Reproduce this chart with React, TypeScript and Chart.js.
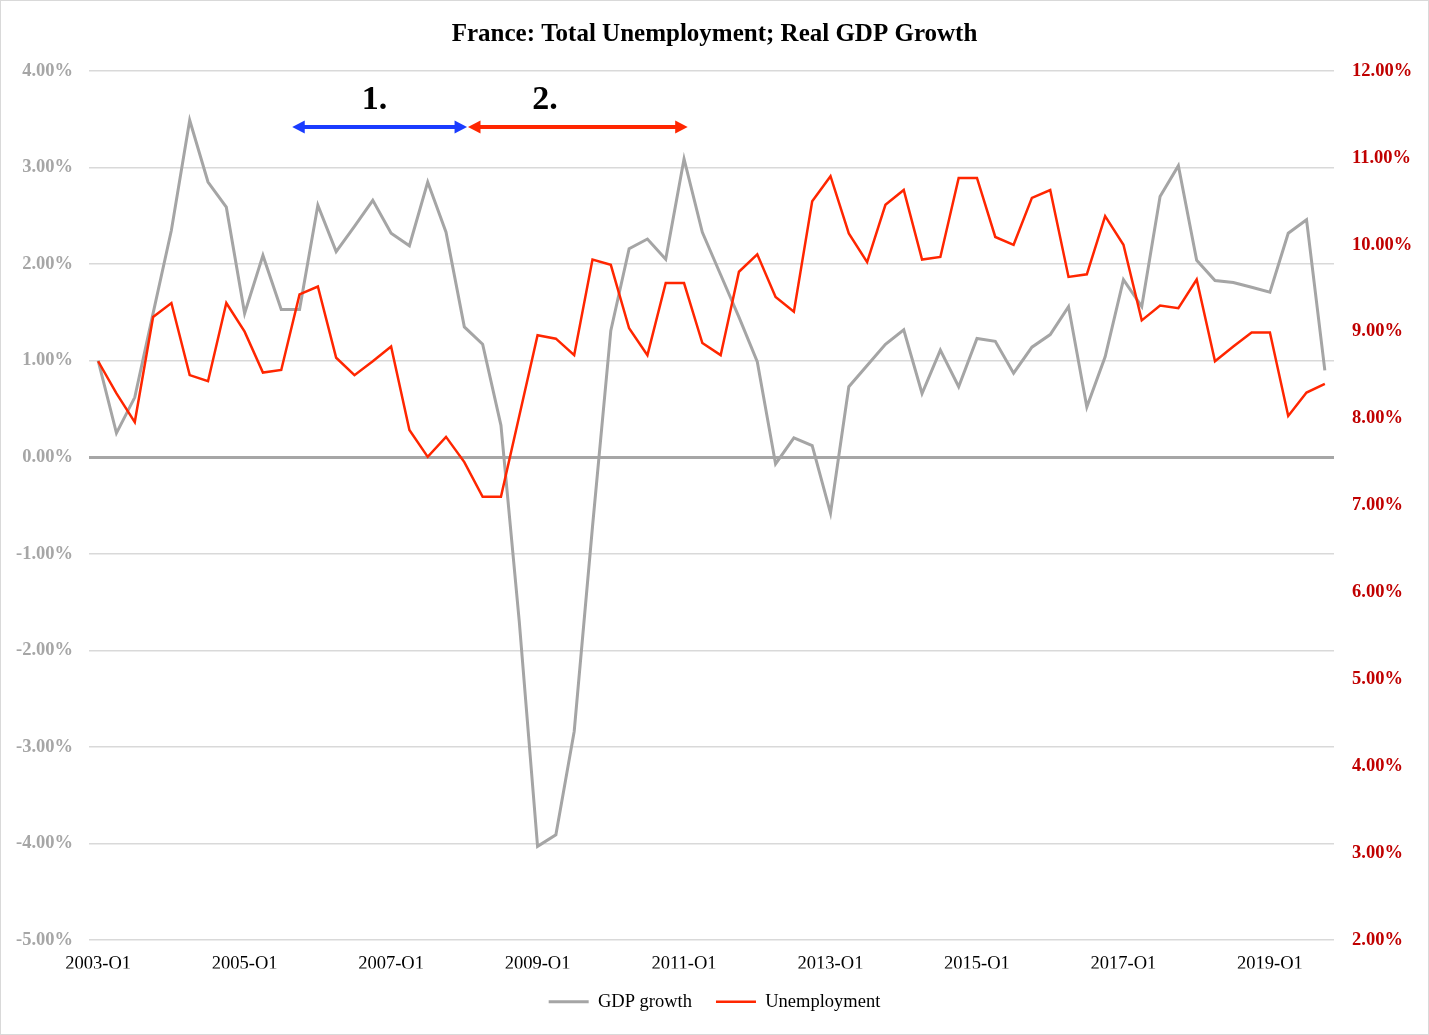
import React, { useEffect, useRef } from "react";
import { Chart, registerables } from "chart.js";

Chart.register(...registerables);

const FONT = "'Liberation Serif', 'Times New Roman', serif";

const years = [2003, 2004, 2005, 2006, 2007, 2008, 2009, 2010, 2011, 2012, 2013, 2014, 2015, 2016, 2017, 2018, 2019];
const quarters = ["Q1", "Q2", "Q3", "Q4"];
const categories = years.flatMap((y) => quarters.map((q) => `${y}-${q}`));

const gdpGrowth = [
  1.0, 0.25, 0.62, 1.49, 2.35, 3.49, 2.85, 2.59,
  1.49, 2.09, 1.53, 1.53, 2.61, 2.13, 2.39, 2.66,
  2.32, 2.19, 2.85, 2.33, 1.35, 1.17, 0.33, -1.7,
  -4.03, -3.91, -2.84, -0.72, 1.31, 2.16, 2.26, 2.05,
  3.09, 2.33, 1.89, 1.45, 0.99, -0.07, 0.2, 0.12,
  -0.58, 0.73, 0.95, 1.17, 1.32, 0.66, 1.11, 0.73,
  1.23, 1.2, 0.87, 1.14, 1.27, 1.56, 0.52, 1.04,
  1.84, 1.56, 2.7, 3.02, 2.04, 1.83, 1.81, 1.76,
  1.71, 2.32, 2.46, 0.9,
];

const unemployment = [
  8.66, 8.29, 7.96, 9.17, 9.33, 8.5, 8.43, 9.33,
  9.0, 8.53, 8.56, 9.43, 9.52, 8.7, 8.5, 8.66,
  8.83, 7.87, 7.56, 7.79, 7.5, 7.1, 7.1, 8.03,
  8.96, 8.92, 8.73, 9.83, 9.77, 9.04, 8.73, 9.56,
  9.56, 8.87, 8.73, 9.69, 9.89, 9.4, 9.23, 10.5,
  10.79, 10.13, 9.8, 10.46, 10.63, 9.83, 9.86, 10.77,
  10.77, 10.09, 10.0, 10.54, 10.63, 9.63, 9.66, 10.33,
  10.0, 9.13, 9.3, 9.27, 9.6, 8.66, 8.83, 8.99,
  8.99, 8.03, 8.3, 8.4,
];

const gdpAxisRange = [-5, 4];
const unemploymentAxisRange = [2, 12];
const xLabelEvery = 8;

// Period annotations (category index units, GDP-axis values)
const annotationLabels = ["1.", "2."];
const annotationLabelAt = [15.1, 24.4];
const arrowFrom = [10.6, 20.2];
const arrowTo = [20.15, 32.2];
const arrowColors = ["#1a3cff", "#ff2600"];
const arrowLevel = 3.42;
const labelLevel = 3.61;

const annotationPlugin = {
  id: "periodArrows",
  afterDatasetsDraw(chart: any) {
    const { ctx } = chart;
    const xs = chart.scales.x;
    const ys = chart.scales.y;
    const ya = ys.getPixelForValue(arrowLevel);
    const yt = ys.getPixelForValue(labelLevel);
    ctx.save();
    arrowFrom.forEach((f, i) => {
      const x1 = xs.getPixelForValue(f);
      const x2 = xs.getPixelForValue(arrowTo[i]);
      const head = 12.5;
      const half = 6.5;
      ctx.strokeStyle = arrowColors[i];
      ctx.fillStyle = arrowColors[i];
      ctx.lineWidth = 4;
      ctx.beginPath();
      ctx.moveTo(x1 + head - 1, ya);
      ctx.lineTo(x2 - head + 1, ya);
      ctx.stroke();
      ctx.beginPath();
      ctx.moveTo(x1, ya);
      ctx.lineTo(x1 + head, ya - half);
      ctx.lineTo(x1 + head, ya + half);
      ctx.closePath();
      ctx.fill();
      ctx.beginPath();
      ctx.moveTo(x2, ya);
      ctx.lineTo(x2 - head, ya - half);
      ctx.lineTo(x2 - head, ya + half);
      ctx.closePath();
      ctx.fill();
    });
    ctx.font = `bold 34px ${FONT}`;
    ctx.fillStyle = "#000";
    ctx.textAlign = "center";
    ctx.textBaseline = "alphabetic";
    annotationLabels.forEach((t, i) => {
      ctx.fillText(t, xs.getPixelForValue(annotationLabelAt[i]), yt);
    });
    ctx.restore();
  },
};

export default function App() {
  const canvasRef = useRef<HTMLCanvasElement | null>(null);

  useEffect(() => {
    document.body.style.margin = "0";
    if (!canvasRef.current) return;
    Chart.defaults.font.family = FONT;
    const chart = new Chart(canvasRef.current, {
      type: "line",
      data: {
        labels: categories,
        datasets: [
          {
            label: "GDP growth",
            data: gdpGrowth,
            borderColor: "#a5a5a5",
            backgroundColor: "#a5a5a5",
            borderWidth: 3,
            pointRadius: 0,
            tension: 0,
            yAxisID: "y",
            order: 2,
          },
          {
            label: "Unemployment",
            data: unemployment,
            borderColor: "#ff2600",
            backgroundColor: "#ff2600",
            borderWidth: 2.5,
            pointRadius: 0,
            tension: 0,
            yAxisID: "y1",
            order: 1,
          },
        ],
      },
      options: {
        animation: false,
        responsive: true,
        maintainAspectRatio: false,
        layout: { padding: { left: 0, right: 0, top: 0, bottom: 13 } },
        plugins: {
          title: {
            display: true,
            text: "France: Total Unemployment; Real GDP Growth",
            color: "#000",
            font: { size: 25, weight: "bold", family: FONT },
            padding: { top: 19, bottom: 21 },
          },
          legend: {
            position: "bottom",
            labels: {
              usePointStyle: true,
              pointStyle: "line",
              pointStyleWidth: 40,
              color: "#000",
              font: { size: 18.5, family: FONT },
              padding: 24,
              sort: (a: any, b: any) => a.datasetIndex - b.datasetIndex,
            },
          },
          tooltip: { enabled: false },
        },
        scales: {
          x: {
            type: "category",
            offset: true,
            grid: { display: false, drawTicks: false },
            border: { display: false },
            ticks: {
              autoSkip: false,
              maxRotation: 0,
              minRotation: 0,
              color: "#000",
              font: { size: 18.5, family: FONT },
              padding: 13,
              callback: (_v: any, idx: number) => (idx % xLabelEvery === 0 ? categories[idx] : null),
            },
            afterFit: (s: any) => {
              s.height = 28.5;
            },
          },
          y: {
            position: "left",
            min: gdpAxisRange[0],
            max: gdpAxisRange[1],
            ticks: {
              stepSize: 1,
              color: "#a6a6a6",
              font: { size: 18.5, weight: "bold", family: FONT },
              padding: 16,
              callback: (v: any) => Number(v).toFixed(2) + "%",
            },
            grid: {
              drawTicks: false,
              color: (c: any) => (c.tick && c.tick.value === 0 ? "#a6a6a6" : "#d9d9d9"),
              lineWidth: (c: any) => (c.tick && c.tick.value === 0 ? 3 : 1.5),
            },
            border: { display: false },
            afterFit: (s: any) => {
              s.width = 88;
            },
          },
          y1: {
            position: "right",
            min: unemploymentAxisRange[0],
            max: unemploymentAxisRange[1],
            ticks: {
              stepSize: 1,
              color: "#c00000",
              font: { size: 18.5, weight: "bold", family: FONT },
              padding: 18,
              callback: (v: any) => Number(v).toFixed(2) + "%",
            },
            grid: { display: false, drawTicks: false },
            border: { display: false },
            afterFit: (s: any) => {
              s.width = 94;
            },
          },
        },
      } as any,
      plugins: [annotationPlugin],
    });
    return () => chart.destroy();
  }, []);

  return (
    <div
      style={{
        width: 1427,
        height: 1033,
        border: "1px solid #d9d9d9",
        position: "relative",
        background: "#fff",
      }}
    >
      <canvas ref={canvasRef} />
    </div>
  );
}
